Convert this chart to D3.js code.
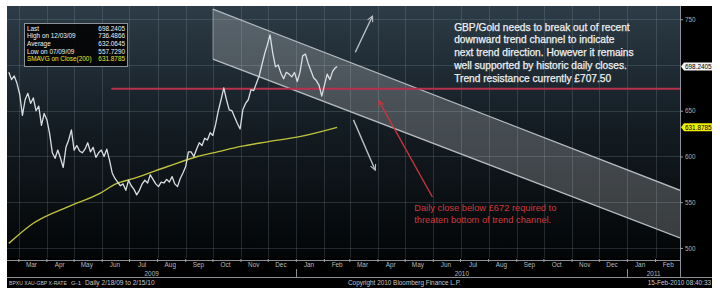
<!DOCTYPE html>
<html><head><meta charset="utf-8">
<script src="https://cdn.jsdelivr.net/npm/d3@7"></script>
<style>
body{margin:0;background:#fff}
svg{display:block}
text{font-family:"Liberation Sans",Arial,sans-serif}
</style>
</head><body>
<svg id="c" width="720" height="292"></svg>
<script>
// ---------------- DATA ----------------
const priceStart = "2009-02-18";
const priceStepDays = 3;
const priceValues = [692,684,688,680,668,645,662,669,658,664,650,655,634,647,640,625,604,598,607,598,
  588,610,618,629,607,612,606,604,608,615,605,610,599,604,607,600,608,596,582,576,
  572,568,570,563,574,568,564,558,563,570,574,571,580,575,570,567,572,571,575,572,
  578,570,567,576,582,589,605,605,600,608,615,612,620,618,626,623,635,650,662,675,
  662,651,650,643,636,630,651,658,662,673,672,680,688,700,712,722,733,713,698,700,
  691,685,692,690,687,692,682,692,710,712,702,694,686,683,678,666,678,690,684,693,697];
const lastDate = "2010-02-15";
const lastValue = 698.2405;

const smaDates = ["2009-02-18","2009-03-17","2009-04-24","2009-05-30","2009-06-16","2009-07-06",
  "2009-08-12","2009-09-14","2009-10-06","2009-11-01","2009-11-30","2010-01-06","2010-02-15"];
const smaValues = [505,527,545,560,570,576,589,600,605,611,616,622,631.8785];

const channelDates = ["2009-10-01","2011-02-28"];
const channelUpper = [761,563];
const channelLower = [706.5,511];

const supportStart = "2009-06-11";
const supportLevel = 674;

const gridValues = [500,550,600,650,700,750];
const yTickLabels = [500,550,600,650,750];
const yearLabels = ["2009","2010","2011"];

const legendLabels = ["Last","High on 12/03/09","Average","Low on 07/09/09","SMAVG on Close(200)"];
const legendValues = ["698.2405","736.4866","632.0645","557.7290","631.8785"];

const noteLines = ["GBP/Gold needs to break out of recent","downward trend channel to indicate",
  "next trend direction. However it remains","well supported by historic daily closes.",
  "Trend resistance currently £707.50"];
const redNoteLines = ["Daily close below £672 required to","threaten bottom of trend channel."];

// annotation arrows in data units [date, value] -> [date, value]
const arrowUp = [["2010-03-07",714],["2010-03-26",753.5]];
const arrowDown = [["2010-03-05",640],["2010-03-29",585]];
const arrowRed = [["2010-05-31",555.7],["2010-04-02",660.7]];
const noteAnchor = ["2010-06-24",737.5];
const redNoteAnchor = ["2010-05-11",540];

const footerLeft = ["BPXU XAU-GBP X-RATE","G-1","Daily 2/18/09 to 2/15/10"];
const footerMid = "Copyright 2010 Bloomberg Finance L.P.";
const footerRight = "15-Feb-2010 08:40:33";

// ---------------- LAYOUT ----------------
const P = {l:7, r:680, t:6, b:258};
const parse = d3.utcParse("%Y-%m-%d");
const x = d3.scaleUtc().domain([parse("2009-02-16"), parse("2011-02-28")]).range([P.l, P.r]);
const y = d3.scaleLinear().domain([489, 764.5]).range([P.b, P.t]);

const svg = d3.select("#c");
const defs = svg.append("defs");
const g = defs.append("linearGradient").attr("id","bg").attr("x1",0).attr("x2",0).attr("y1",0).attr("y2",1);
g.append("stop").attr("offset","0").attr("stop-color","#2d3c47");
g.append("stop").attr("offset","0.45").attr("stop-color","#151e25");
g.append("stop").attr("offset","1").attr("stop-color","#030506");
defs.append("clipPath").attr("id","clip").append("rect")
  .attr("x",P.l).attr("y",P.t).attr("width",P.r-P.l).attr("height",P.b-P.t);
function marker(id, color){
  defs.append("marker").attr("id",id).attr("viewBox","0 0 10 10").attr("refX",9).attr("refY",5)
    .attr("markerWidth",7).attr("markerHeight",7).attr("orient","auto-start-reverse")
    .attr("markerUnits","userSpaceOnUse")
    .append("path").attr("d","M1,1 L9,5 L1,9").attr("fill","none").attr("stroke",color).attr("stroke-width",1.6);
}
marker("mg","#b9c0c4"); marker("mr","#c8343c");

// frame backgrounds
svg.append("rect").attr("x",P.l).attr("y",P.t).attr("width",712-P.l).attr("height",288-P.t).attr("fill","#000");
svg.append("rect").attr("x",P.l).attr("y",P.t).attr("width",P.r-P.l).attr("height",P.b-P.t).attr("fill","url(#bg)");

// grid
const months = d3.utcMonth.range(x.domain()[0], x.domain()[1]);
const grid = svg.append("g").attr("clip-path","url(#clip)");
grid.selectAll("line.v").data(months).join("line")
  .attr("x1",d=>Math.round(x(d))+0.5).attr("x2",d=>Math.round(x(d))+0.5)
  .attr("y1",P.t).attr("y2",P.b).attr("stroke","#8fa2b0").attr("stroke-opacity",0.22);
grid.selectAll("line.h").data(gridValues).join("line")
  .attr("x1",P.l).attr("x2",P.r).attr("y1",d=>Math.round(y(d))+0.5).attr("y2",d=>Math.round(y(d))+0.5)
  .attr("stroke","#8fa2b0").attr("stroke-opacity",0.22);

const plot = svg.append("g").attr("clip-path","url(#clip)");

// channel
const cd = channelDates.map(parse);
const poly = [[x(cd[0]),y(channelUpper[0])],[x(cd[1]),y(channelUpper[1])],
              [x(cd[1]),y(channelLower[1])],[x(cd[0]),y(channelLower[0])]];
plot.append("path").attr("d","M"+poly.join("L")+"Z").attr("fill","#ffffff").attr("fill-opacity",0.21);
plot.append("line").attr("x1",poly[0][0]).attr("y1",poly[0][1]).attr("x2",poly[1][0]).attr("y2",poly[1][1])
  .attr("stroke","#b4bbc0").attr("stroke-width",1.3);
plot.append("line").attr("x1",poly[3][0]).attr("y1",poly[3][1]).attr("x2",poly[2][0]).attr("y2",poly[2][1])
  .attr("stroke","#b4bbc0").attr("stroke-width",1.3);
plot.append("line").attr("x1",poly[0][0]).attr("y1",poly[0][1]).attr("x2",poly[3][0]).attr("y2",poly[3][1])
  .attr("stroke","#b4bbc0").attr("stroke-opacity",0.5);

// support line
plot.append("line").attr("x1",x(parse(supportStart))).attr("x2",P.r)
  .attr("y1",y(supportLevel)).attr("y2",y(supportLevel))
  .attr("stroke","#b8304e").attr("stroke-width",2);

// SMA
const sma = smaDates.map((d,i)=>({d:parse(d),v:smaValues[i]}));
plot.append("path").datum(sma).attr("fill","none").attr("stroke","#bfc23a").attr("stroke-width",1.4)
  .attr("d",d3.line().x(d=>x(d.d)).y(d=>y(d.v)).curve(d3.curveMonotoneX));

// price
const p0 = parse(priceStart);
const price = priceValues.map((v,i)=>({d:d3.utcDay.offset(p0,i*priceStepDays),v}));
price.push({d:parse(lastDate),v:lastValue});
plot.append("path").datum(price).attr("fill","none").attr("stroke","#d9dee1").attr("stroke-width",1.3)
  .attr("stroke-linejoin","round")
  .attr("d",d3.line().x(d=>x(d.d)).y(d=>y(d.v)));

// arrows
function arrow(a,color,mk){
  svg.append("line").attr("x1",x(parse(a[0][0]))).attr("y1",y(a[0][1]))
    .attr("x2",x(parse(a[1][0]))).attr("y2",y(a[1][1]))
    .attr("stroke",color).attr("stroke-width",1.4).attr("marker-end","url(#"+mk+")");
}
arrow(arrowUp,"#b9c0c4","mg"); arrow(arrowDown,"#b9c0c4","mg"); arrow(arrowRed,"#c8343c","mr");

// notes
const nx = x(parse(noteAnchor[0]));
const nt = svg.append("text").attr("x",nx).attr("y",y(noteAnchor[1]))
  .attr("font-size",10.2).attr("fill","#eef0f1").attr("stroke","#eef0f1").attr("stroke-width",0.25);
nt.selectAll("tspan").data(noteLines).join("tspan")
  .attr("x",nx).attr("dy",(d,i)=>i?12.8:0).text(d=>d);
const rx = x(parse(redNoteAnchor[0]));
const rt = svg.append("text").attr("x",rx).attr("y",y(redNoteAnchor[1]))
  .attr("font-size",9.3).attr("fill","#d0383a");
rt.selectAll("tspan").data(redNoteLines).join("tspan")
  .attr("x",rx).attr("dy",(d,i)=>i?12:0).text(d=>d);

// legend box
const lg = svg.append("g");
lg.append("rect").attr("x",24.5).attr("y",23.5).attr("width",103).attr("height",43)
  .attr("fill","#000").attr("fill-opacity",0.85).attr("stroke","#8c9398");
legendLabels.forEach((t,i)=>{
  const col = i===4 ? "#e6e62c" : "#f2f2f2";
  lg.append("text").attr("x",27).attr("y",30.5+i*7.7).attr("font-size",6.4).attr("fill",col).text(t);
  lg.append("text").attr("x",125).attr("y",30.5+i*7.7).attr("font-size",6.4).attr("fill",col)
    .attr("text-anchor","end").text(legendValues[i]);
});

// right axis
svg.append("line").attr("x1",P.r+0.5).attr("x2",P.r+0.5).attr("y1",P.t).attr("y2",277)
  .attr("stroke","#8a9096");
const ra = svg.append("g").attr("transform",`translate(${P.r},0)`)
  .call(d3.axisRight(y).tickValues(yTickLabels).tickSize(3).tickPadding(2));
ra.select(".domain").remove();
ra.selectAll("line").attr("stroke","#9aa0a4");
ra.selectAll("text").attr("font-size",6.4).attr("fill","#a9afb3").attr("font-family","Liberation Sans, Arial, sans-serif");

function tag(v, fill, label){
  const yy = y(v);
  svg.append("path").attr("d",`M${P.r+1},${yy} L${P.r+4},${yy-4} L712,${yy-4} L712,${yy+4} L${P.r+4},${yy+4} Z`)
    .attr("fill",fill);
  svg.append("text").attr("x",P.r+5).attr("y",yy+2.3).attr("font-size",6.4).attr("fill","#000").text(label);
}
tag(lastValue,"#f4f4f4",legendValues[0]);
tag(smaValues[smaValues.length-1],"#f0f000",legendValues[4]);

// bottom axis
svg.append("line").attr("x1",P.l).attr("x2",P.r).attr("y1",P.b+2.5).attr("y2",P.b+2.5).attr("stroke","#8a9096");
svg.append("line").attr("x1",P.l).attr("x2",712).attr("y1",277.5).attr("y2",277.5).attr("stroke","#8a9096");
const ba = svg.append("g");
ba.selectAll("line").data(months).join("line")
  .attr("x1",d=>x(d)).attr("x2",d=>x(d)).attr("y1",P.b+1).attr("y2",P.b+4).attr("stroke","#9aa0a4");
ba.selectAll("text").data(months).join("text")
  .attr("x",d=>x(d3.utcDay.offset(d,14))).attr("y",267).attr("text-anchor","middle")
  .attr("font-size",6.4).attr("fill","#b5babd").text(d=>d3.utcFormat("%b")(d));
const years = d3.utcYear.range(d3.utcYear.floor(x.domain()[0]), x.domain()[1]);
years.forEach((yr,i)=>{
  const a = Math.max(x(yr),P.l), b = Math.min(x(d3.utcYear.offset(yr,1)),P.r);
  svg.append("text").attr("x",(a+b)/2).attr("y",275.5).attr("text-anchor","middle")
    .attr("font-size",6.4).attr("fill","#b5babd").text(yearLabels[i]);
  if (x(yr) > P.l) svg.append("line").attr("x1",Math.round(x(yr))+0.5).attr("x2",Math.round(x(yr))+0.5)
    .attr("y1",269).attr("y2",277).attr("stroke","#8a9096");
});

// footer
const fy = 285;
[[9,footerLeft[0],5.1],[71,footerLeft[1],6],[85,footerLeft[2],6.6]].forEach(([fx,t,fs])=>{
  svg.append("text").attr("x",fx).attr("y",fy).attr("font-size",fs).attr("fill","#c4c8ca").text(t);
});
svg.append("text").attr("x",348).attr("y",fy).attr("font-size",6.4).attr("fill","#c4c8ca").text(footerMid);
svg.append("text").attr("x",711).attr("y",fy).attr("text-anchor","end").attr("font-size",6.4).attr("fill","#c4c8ca").text(footerRight);
</script>
</body></html>
